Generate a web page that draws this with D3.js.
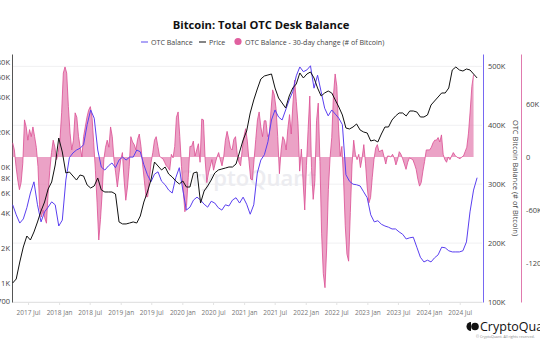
<!DOCTYPE html>
<html>
<head>
<meta charset="utf-8">
<script src="https://cdn.jsdelivr.net/npm/d3@7"></script>
<style>
  body { margin: 0; background: #fff; }
  svg { display: block; font-family: "Open Sans", "Noto Sans", sans-serif; }
</style>
</head>
<body>
<svg id="chart" width="540" height="340"></svg>
<script>
// x axis labels, every six months
const xTickLabels = ["2017 Jul", "2018 Jan", "2018 Jul", "2019 Jan", "2019 Jul", "2020 Jan", "2020 Jul",
  "2021 Jan", "2021 Jul", "2022 Jan", "2022 Jul", "2023 Jan", "2023 Jul", "2024 Jan", "2024 Jul"];
const balanceTicks = [100, 200, 300, 400, 500];      // K BTC
const changeTicks = [-120, -60, 0, 60];              // K BTC
const priceTicks = [700, 1000, 2000, 4000, 6000, 8000, 10000, 20000, 40000, 60000, 80000];

// OTC balance + price, one reading every 21 days from balanceStart
const balanceStart = "2017-04-01";
const balanceStepDays = 21;
const otcBalanceK = [
  265, 248, 234, 241, 260, 285, 304, 265, 236, 253,
  261, 270, 265, 229, 239, 307, 345, 353, 358, 361,
  367, 401, 426, 412, 358, 329, 324, 331, 336, 328,
  341, 346, 341, 346, 346, 358, 355, 333, 316, 304,
  317, 321, 305, 299, 290, 285, 311, 328, 290, 256,
  261, 273, 278, 273, 266, 261, 271, 268, 260, 256,
  265, 263, 273, 277, 268, 278, 266, 249, 265, 319,
  341, 350, 372, 409, 426, 414, 409, 426, 443, 457,
  484, 499, 491, 494, 501, 463, 485, 457, 429, 416,
  426, 419, 412, 401, 316, 305, 300, 299, 297, 287,
  277, 248, 236, 238, 232, 229, 227, 224, 224, 219,
  215, 207, 209, 210, 193, 176, 168, 171, 168, 175,
  180, 193, 192, 187, 185, 185, 185, 187, 202, 253,
  290, 311
];
const priceUsd = [
  1000, 1083, 1517, 2043, 2542, 2348, 2753, 3357, 4175, 4992,
  6462, 7425, 10400, 17780, 13470, 8880, 9060, 8360, 7720, 8530,
  8360, 7000, 6590, 6860, 8040, 6340, 6090, 6090, 6090, 5850,
  3360, 3230, 3230, 3290, 3360, 3290, 3780, 4990, 6090, 7720,
  11040, 10200, 9420, 10000, 8700, 8200, 7570, 7140, 7570, 6720,
  6720, 8880, 9060, 4890, 6210, 6860, 7720, 8880, 9420, 9610,
  9800, 10000, 10000, 10610, 13470, 17090, 20430, 29220, 37820, 47030,
  57360, 60880, 62110, 63350, 47970, 39330, 35620, 32260, 40940, 47970,
  51940, 64630, 58530, 63350, 65920, 58530, 47970, 40940, 43450, 45210,
  43450, 37820, 32900, 28080, 21690, 21270, 22120, 23490, 20840, 20030,
  19640, 16750, 17090, 16430, 19250, 22120, 22120, 25420, 27530, 29220,
  29220, 27530, 30390, 30390, 29800, 26980, 26980, 28080, 34220, 37070,
  40120, 43450, 43450, 47970, 68600, 72800, 68600, 67200, 69950, 68600,
  63350, 58530
];

// 30-day change, one reading every 10 days from changeStart
const changeStart = "2017-04-01";
const changeStepDays = 10;
const otcChangeK = [
  16, 8, -11, -26, -37, -29, -7, 42, 34, 19,
  31, 23, 34, 23, 11, -11, -57, -68, -60, -69,
  -75, -41, -15, 5, 19, 11, -3, 5, 19, 50,
  95, 102, 95, 57, 27, 8, 19, 50, 45, 23,
  11, 0, 23, 34, 45, 53, 57, 45, 16, -15,
  -52, -94, -71, -41, -3, 11, 19, 11, 34, 23,
  -3, -18, -34, -18, -3, 5, -26, -49, -34, -11,
  23, 17, 14, 8, 20, 26, 12, -9, -27, -45,
  -45, -25, -6, 5, 19, 23, 12, 1, -1, -2,
  -6, -10, -12, -15, 3, -1, 12, 45, 51, 23,
  -11, -36, -62, -55, -23, 12, 12, 18, 1, 8,
  15, -6, 43, 42, -3, -29, -18, -11, -3, -15,
  -7, 0, 5, -3, -10, 0, 19, 29, 20, 10,
  8, 20, 23, 3, -6, -10, 9, 23, 32, 18,
  -5, -25, -26, -3, 20, 42, 51, 34, 23, 41,
  41, 23, 26, 52, 76, 70, 55, 23, -19,
  8, 23, 19, 8, 32, 48, 26, 60, 87, 63,
  38, -16, 9, -27, -60, -10, 31, 69, -12, -48,
  -27, 41, 61, -5, -87, -132, -148, -103, -37, -1,
  22, 69, 94, 80, 34, 1, 12, -25, -78, -110,
  -118, -63, -9, 19, 3, -3, 3, -12, -1, 14,
  -7, -34, -52, -46, -23, -3, 10, 14, 6, 7,
  8, 0, -8, 1, 1, 0, 3, -1, -9, -3,
  6, 3, -2, -8, -14, -6, -1, -2, -3, -8,
  -14, -25, -33, -29, -16, -5, 8, 8, 8, 11,
  16, 19, 19, 22, 17, 25, 3, -3, -6, 0,
  -3, 1, 5, 2, 0, -1, -2, 0, 1, 6,
  11, 27, 52, 80, 93
];

const svg = d3.select("#chart");
const plotLeft = 12, plotRight = 482, plotTop = 54, plotBottom = 302;

const parseDay = d3.utcParse("%Y-%m-%d");
const parseTick = d3.utcParse("%Y %b");
const balDates = otcBalanceK.map((d, i) => d3.utcDay.offset(parseDay(balanceStart), i * balanceStepDays));
const chgDates = otcChangeK.map((d, i) => d3.utcDay.offset(parseDay(changeStart), i * changeStepDays));

const x = d3.scaleUtc().domain([parseDay("2017-03-28"), parseDay("2024-11-10")]).range([plotLeft, plotRight]);
const yBal = d3.scaleLinear().domain([100, 521]).range([plotBottom, plotTop]);
const yChg = d3.scaleLinear().domain([-164.2, 116.6]).range([plotBottom, plotTop]);
const yPrice = d3.scaleLog().domain([686, 94200]).range([plotBottom, plotTop]);

const kFmt = v => v === 0 ? "0" : v + "K";

// gridlines from the balance axis
svg.append("g").selectAll("line").data(balanceTicks).join("line")
  .attr("x1", plotLeft).attr("x2", plotRight)
  .attr("y1", d => yBal(d)).attr("y2", d => yBal(d))
  .attr("stroke", "#f0f0f2").attr("stroke-width", 1);

// watermark
svg.append("text").attr("x", 247).attr("y", 186).attr("text-anchor", "middle")
  .attr("font-size", 22).attr("font-weight", 600).attr("fill", "#ececf0")
  .text("CryptoQuant");

// x axis
const xAxis = svg.append("g").attr("transform", `translate(0,${plotBottom})`)
  .call(d3.axisBottom(x).tickValues(xTickLabels.map(parseTick))
    .tickFormat(d3.utcFormat("%Y %b")).tickSize(3).tickPadding(5).tickSizeOuter(0));
xAxis.attr("font-family", null).attr("font-size", 6.5);
xAxis.select(".domain").attr("stroke", "#e3e3e3");
xAxis.selectAll(".tick line").attr("stroke", "#e3e3e3");
xAxis.selectAll("text").attr("fill", "#777");

// price axis (log), left
const pAxis = svg.append("g").attr("transform", `translate(${plotLeft},0)`)
  .call(d3.axisLeft(yPrice).tickValues(priceTicks)
    .tickFormat(v => v >= 1000 ? v / 1000 + "K" : v).tickSize(0).tickPadding(2).tickSizeOuter(0));
pAxis.attr("font-family", null).attr("font-size", 7.5);
pAxis.select(".domain").attr("stroke", "#555");
pAxis.selectAll("text").attr("fill", "#444");

// balance axis, right
const bAxis = svg.append("g").attr("transform", `translate(${plotRight + 1},0)`)
  .call(d3.axisRight(yBal).tickValues(balanceTicks).tickFormat(kFmt).tickSize(0).tickPadding(5).tickSizeOuter(0));
bAxis.attr("font-family", null).attr("font-size", 7.5);
bAxis.select(".domain").attr("stroke", "#7668f2");
bAxis.selectAll("text").attr("fill", "#444");

svg.append("text")
  .attr("transform", `translate(513,${(plotTop + plotBottom) / 2}) rotate(90)`)
  .attr("text-anchor", "middle").attr("font-size", 7.5).attr("fill", "#444")
  .text("OTC Bitcoin Balance (# of Bitcoin)");

// change axis, far right
const cAxis = svg.append("g").attr("transform", "translate(521,0)")
  .call(d3.axisRight(yChg).tickValues(changeTicks).tickFormat(kFmt).tickSize(0).tickPadding(5).tickSizeOuter(0));
cAxis.attr("font-family", null).attr("font-size", 7.5);
cAxis.select(".domain").attr("stroke", "#e07aae");
cAxis.selectAll("text").attr("fill", "#444");

// 30-day change area
svg.append("path").datum(otcChangeK)
  .attr("d", d3.area().x((d, i) => x(chgDates[i])).y0(yChg(0)).y1(d => yChg(d)))
  .attr("fill", "#e27aae").attr("fill-opacity", 0.7);
svg.append("path").datum(otcChangeK)
  .attr("d", d3.line().x((d, i) => x(chgDates[i])).y(d => yChg(d)))
  .attr("fill", "none").attr("stroke", "#da4c92").attr("stroke-width", 0.8);

// OTC balance
svg.append("path").datum(otcBalanceK)
  .attr("d", d3.line().x((d, i) => x(balDates[i])).y(d => yBal(d)))
  .attr("fill", "none").attr("stroke", "#5a3ff0").attr("stroke-width", 1);

// price
svg.append("path").datum(priceUsd)
  .attr("d", d3.line().x((d, i) => x(balDates[i])).y(d => yPrice(d)))
  .attr("fill", "none").attr("stroke", "#111").attr("stroke-width", 1);

// title + legend
svg.append("text").attr("x", 261).attr("y", 29).attr("text-anchor", "middle")
  .attr("font-size", 11.2).attr("font-weight", 700).attr("fill", "#111")
  .text("Bitcoin: Total OTC Desk Balance");

const lg = svg.append("g").attr("font-size", 7.1).attr("fill", "#444");
lg.append("line").attr("x1", 141).attr("x2", 148).attr("y1", 42).attr("y2", 42).attr("stroke", "#7668f2").attr("stroke-width", 1.2);
lg.append("text").attr("x", 151).attr("y", 44.5).text("OTC Balance");
lg.append("line").attr("x1", 199).attr("x2", 206).attr("y1", 42).attr("y2", 42).attr("stroke", "#333").attr("stroke-width", 1.2);
lg.append("text").attr("x", 209).attr("y", 44.5).text("Price");
lg.append("circle").attr("cx", 238).attr("cy", 41.5).attr("r", 3.6).attr("fill", "#e0609f");
lg.append("text").attr("x", 245).attr("y", 44.5).text("OTC Balance - 30-day change (# of Bitcoin)");

// logo bottom right
const logo = svg.append("g");
logo.append("path").attr("d", "M471,322 a4.5,4.5 0 0,0 0,9 z").attr("fill", "#111");
logo.append("circle").attr("cx", 475).attr("cy", 326.5).attr("r", 3.8).attr("fill", "#111");
logo.append("text").attr("x", 480).attr("y", 331).attr("font-size", 12.5).attr("fill", "#111").text("CryptoQuant");
logo.append("text").attr("x", 476).attr("y", 338).attr("font-size", 3.6).attr("fill", "#888").text("© CryptoQuant. All rights reserved.");
</script>
</body>
</html>
